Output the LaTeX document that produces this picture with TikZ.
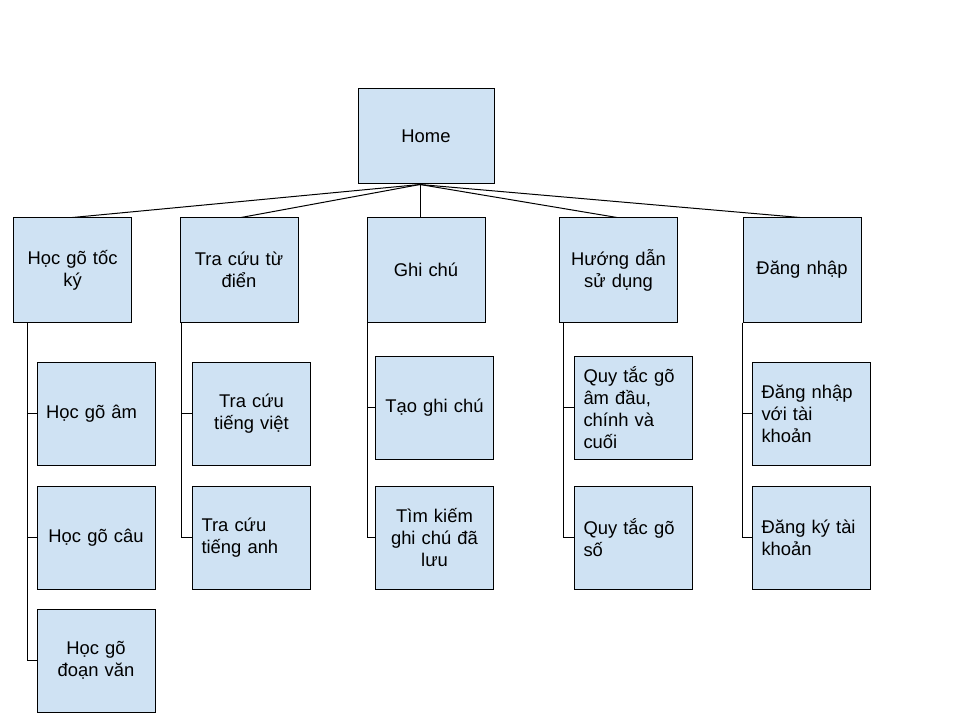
\documentclass[tikz,border=0pt]{standalone}
\usepackage{fontspec}
\setmainfont{Liberation Sans}
\usetikzlibrary{calc}
\definecolor{boxblue}{RGB}{207,226,243}

\begin{document}
\begin{tikzpicture}[x=0.75pt, y=-0.75pt,
		box/.style={draw, fill=boxblue, line width=0.75pt, inner xsep=6.75pt, inner ysep=0pt,
			font=\fontsize{13.8}{16.5}\selectfont, text width=75pt, minimum height=77.25pt},
		topbox/.style={box, minimum height=78pt, align=center},
		link/.style={line width=0.75pt}]
		\useasboundingbox (0,0) rectangle (960,720);

		% home
		\node[box, text width=88.5pt, minimum height=71.25pt, align=center] (home) at (426,136.5) {Home};
		\coordinate (hub) at ($(home.south)+(-6,0)$);

		% first level
		\node[topbox] (c1) at (72.5,270) {Học gõ tốc\\ký};
		\node[topbox] (c2) at (239,270) {Tra cứu từ\\điển};
		\node[topbox] (c3) at (426,270) {Ghi chú};
		\node[topbox] (c4) at (618.5,270) {Hướng dẫn\\sử dụng};
		\node[topbox] (c5) at (802,270) {Đăng nhập};

		\draw[link] (hub) -- (c1.north);
		\draw[link] (hub) -- ($(c2.north)+(2,0)$);
		\draw[link] (hub) -- (hub |- c3.north);
		\draw[link] (hub) -- ($(c4.north)+(-1.5,0)$);
		\draw[link] (hub) -- ($(c5.north)+(-2,0)$);

		% second level
		\node[box, align=left] (a1) at (96,413.5) {Học gõ âm};
		\node[box, align=center] (a2) at (96,537.5) {Học gõ câu};
		\node[box, align=center] (a3) at (96,660.5) {Học gõ\\đoạn văn};

		\node[box, align=center] (b1) at (251.5,413.5) {Tra cứu\\tiếng việt};
		\node[box, align=left] (b2) at (251.5,537.5) {Tra cứu\\tiếng anh};

		\node[box, align=center] (g1) at (434.5,407.5) {Tạo ghi chú};
		\node[box, align=center] (g2) at (434.5,537.5) {Tìm kiếm\\ghi chú đã\\lưu};

		\node[box, align=left] (h1) at (633.5,407.5) {Quy tắc gõ\\âm đầu,\\chính và\\cuối};
		\node[box, align=left] (h2) at (633.5,537.5) {Quy tắc gõ\\số};

		\node[box, align=left] (d1) at (811.5,413.5) {Đăng nhập\\với tài\\khoản};
		\node[box, align=left] (d2) at (811.5,537.5) {Đăng ký tài\\khoản};

		% trunks
		\coordinate (t1) at ($(c1.south west)+(14,0)$);
		\coordinate (t2) at ($(c2.south west)+(2,0)$);
		\coordinate (t3) at ($(c3.south west)+(1,0)$);
		\coordinate (t4) at ($(c4.south west)+(4,0)$);
		\coordinate (t5) at (c5.south west);

		\draw[link] (t1) |- (a1.west);
		\draw[link] (t1) |- (a2.west);
		\draw[link] (t1) |- (a3.west);
		\draw[link] (t2) |- (b1.west);
		\draw[link] (t2) |- (b2.west);
		\draw[link] (t3) |- (g1.west);
		\draw[link] (t3) |- (g2.west);
		\draw[link] (t4) |- (h1.west);
		\draw[link] (t4) |- (h2.west);
		\draw[link] (t5) |- (d1.west);
		\draw[link] (t5) |- (d2.west);
	\end{tikzpicture}
\end{document}
